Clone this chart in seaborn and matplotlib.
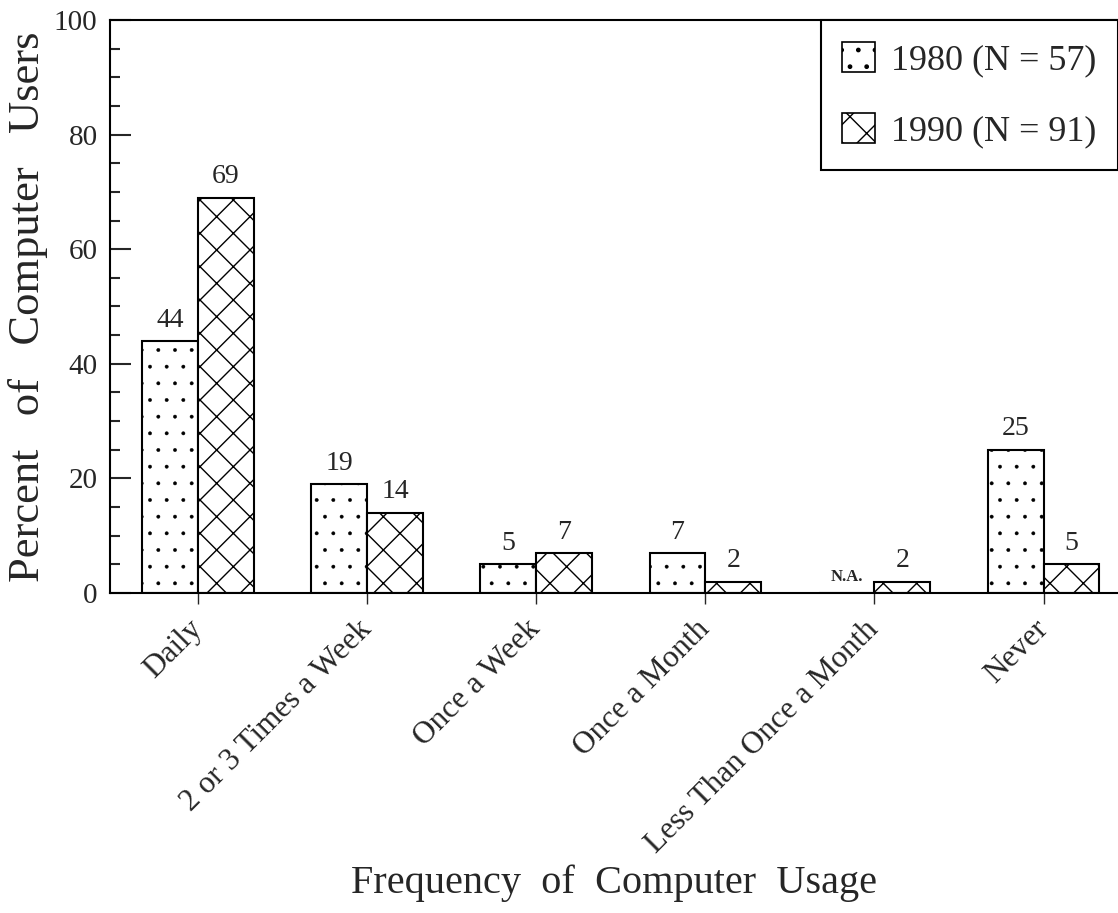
import numpy as np
import pandas as pd
import seaborn as sns
import matplotlib.pyplot as plt
from matplotlib.patches import Patch
from matplotlib.ticker import MultipleLocator

# chart data
categories = ['Daily', '2 or 3 Times a Week', 'Once a Week', 'Once a Month',
              'Less Than Once a Month', 'Never']
years = ['1980 (N = 57)', '1990 (N = 91)']
pct_1980 = [44, 19, 5, 7, np.nan, 25]   # N.A. for "Less Than Once a Month"
pct_1990 = [69, 14, 7, 2, 2, 5]
hatches = ['.', 'x']
hatch_widths = [0.3, 1.0]

sns.set_style('ticks')
plt.rcParams['font.family'] = ['Liberation Serif', 'DejaVu Serif']
plt.rcParams['hatch.linewidth'] = 1.0

df = pd.DataFrame({
    'usage': categories * 2,
    'year': [years[0]] * len(categories) + [years[1]] * len(categories),
    'pct': pct_1980 + pct_1990,
})
df['height'] = df['pct'].fillna(0)

fig = plt.figure(figsize=(11.18, 9.13), dpi=100)
ax = fig.add_axes([110 / 1118, 1 - 593 / 913, 1 - 110 / 1118, 573 / 913])

sns.barplot(data=df, x='usage', y='height', hue='year', order=categories,
            hue_order=years, palette=['white', 'white'], width=0.66, gap=0,
            edgecolor='black', linewidth=1.5, saturation=1, legend=False, ax=ax)

def style_patch(p, hatch, hw):
    p.set_hatch(hatch)
    p.set_facecolor('white')
    if hasattr(p, 'set_hatch_linewidth'):
        p.set_hatch_linewidth(hw)

for container, hatch, hw in zip(ax.containers, hatches, hatch_widths):
    for bar in container:
        style_patch(bar, hatch, hw)

# value labels on top of bars
for container, vals in zip(ax.containers, [pct_1980, pct_1990]):
    labels = ['N.A.' if np.isnan(v) else f'{v:g}' for v in vals]
    texts = ax.bar_label(container, labels=labels, padding=6, fontsize=20)
    for t in texts:
        if t.get_text() == 'N.A.':
            t.set_fontsize(12)
            t.set_fontweight('bold')

ax.set_ylim(0, 100)
ax.set_xlim(-0.52, 5.44)
ax.yaxis.set_major_locator(MultipleLocator(20))
ax.yaxis.set_minor_locator(MultipleLocator(5))
ax.tick_params(axis='y', which='major', direction='in', length=15, width=1.5,
               labelsize=21, pad=9)
ax.tick_params(axis='y', which='minor', direction='in', length=7, width=1.5)
ax.tick_params(axis='x', which='major', direction='out', length=8, width=1,
               labelsize=22.5, pad=15)
plt.setp(ax.get_xticklabels(), rotation=45, ha='right', va='center',
         rotation_mode='anchor')

for side in ['left', 'bottom', 'top']:
    ax.spines[side].set_linewidth(1.5)
    ax.spines[side].set_color('black')
ax.spines['right'].set_visible(False)

ax.set_ylabel('Percent   of   Computer   Users', fontsize=32, labelpad=4)
ax.set_xlabel('Frequency  of  Computer  Usage', fontsize=29)
ax.xaxis.set_label_coords(0.5, -(870 - 593) / 573 + 0.01)

handles = []
for h, hw in zip(hatches, hatch_widths):
    p = Patch(facecolor='white', edgecolor='black', linewidth=1.2)
    style_patch(p, h, hw)
    handles.append(p)
leg = ax.legend(handles, years, loc='upper right', bbox_to_anchor=(1.0, 1.0),
                borderaxespad=0, fontsize=26, frameon=True, fancybox=False,
                edgecolor='black', framealpha=1, handlelength=0.9,
                handleheight=0.9, handletextpad=0.45, borderpad=0.6,
                labelspacing=1.0)
leg.get_frame().set_linewidth(1.5)

fig.savefig('out.png', dpi=100)
